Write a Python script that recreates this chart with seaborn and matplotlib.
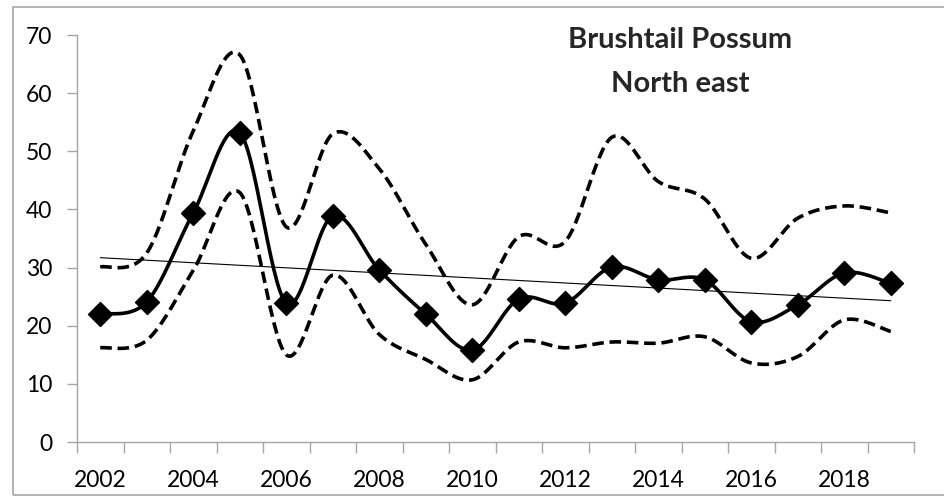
import numpy as np
import pandas as pd
import matplotlib
matplotlib.use('Agg')
import matplotlib.pyplot as plt
import seaborn as sns
from matplotlib.patches import Rectangle

# Data
years = list(range(2002, 2020))
mean_count = [22.0, 24.1, 39.4, 53.2, 23.9, 38.9, 29.6, 22.0, 15.8, 24.6,
              23.9, 30.1, 27.9, 27.9, 20.7, 23.6, 29.1, 27.3]
upper_ci = [30.1, 32.5, 53.5, 66.6, 37.0, 53.0, 47.0, 34.0, 23.6, 35.3,
            34.5, 52.4, 44.8, 41.8, 31.6, 38.5, 40.6, 39.4]
lower_ci = [16.2, 17.5, 29.5, 42.9, 15.0, 28.7, 18.5, 14.2, 10.7, 17.2,
            16.2, 17.2, 17.0, 18.1, 13.6, 14.7, 21.0, 19.0]


def smooth(y, n=30):
    # Excel style smoothed line (Catmull-Rom bezier)
    pts = np.column_stack([np.arange(len(y)), y]).astype(float)
    ext = np.vstack([pts[0], pts, pts[-1]])
    xs, ys = [], []
    for i in range(len(pts) - 1):
        p0, p1, p2, p3 = ext[i], ext[i + 1], ext[i + 2], ext[i + 3]
        c1 = p1 + (p2 - p0) / 6
        c2 = p2 - (p3 - p1) / 6
        t = np.linspace(0, 1, n, endpoint=(i == len(pts) - 2))[:, None]
        b = (1 - t) ** 3 * p1 + 3 * (1 - t) ** 2 * t * c1 + 3 * (1 - t) * t ** 2 * c2 + t ** 3 * p2
        xs.extend(b[:, 0])
        ys.extend(b[:, 1])
    return np.array(xs), np.array(ys)


sns.set_style("white")
plt.rcParams['font.family'] = ['Lato', 'DejaVu Sans']

df = pd.DataFrame({'idx': np.arange(len(years)), 'mean': mean_count})

fig = plt.figure(figsize=(9.44, 4.98), dpi=100)
ax = fig.add_axes([77 / 944, 1 - 442 / 498, (914 - 77) / 944, (442 - 35) / 498])

dash = (0, (3.2, 1.6))
for series in [upper_ci, lower_ci]:
    sx, sy = smooth(series)
    sns.lineplot(x=sx, y=sy, sort=False, estimator=None, ax=ax, color='black',
                 lw=2.6, linestyle=dash, dash_capstyle='butt')

sx, sy = smooth(mean_count)
sns.lineplot(x=sx, y=sy, sort=False, estimator=None, ax=ax, color='black', lw=2.6)

# linear trend of the mean
sns.regplot(data=df, x='idx', y='mean', ax=ax, scatter=False, ci=None, truncate=True,
            line_kws={'color': 'black', 'lw': 0.8})

sns.scatterplot(data=df, x='idx', y='mean', ax=ax, marker='D', s=150, color='black',
                edgecolor='black', zorder=5)

ax.set_xlim(-0.5, len(years) - 0.5)
ax.set_ylim(0, 70)
ax.set_yticks(range(0, 71, 10))
ax.set_xticks(np.arange(0, len(years), 2))
ax.set_xticklabels([str(y) for y in years[::2]])
ax.set_xticks(np.arange(-0.5, len(years), 1), minor=True)
ax.set_xlabel('')
ax.set_ylabel('')

for side in ['top', 'right']:
    ax.spines[side].set_visible(False)
for side in ['left', 'bottom']:
    ax.spines[side].set_color('#a6a6a6')
    ax.spines[side].set_linewidth(1.0)

ax.tick_params(axis='y', which='major', left=True, length=7, width=1, color='#a6a6a6',
               labelsize=16.5, pad=11, labelcolor='black')
ax.tick_params(axis='x', which='major', bottom=False, length=0, labelsize=16.5, pad=20,
               labelcolor='black')
ax.tick_params(axis='x', which='minor', bottom=True, length=8, width=1, color='#a6a6a6')

fig.text(680 / 944, 1 - 48 / 498, 'Brushtail Possum', ha='center', va='baseline',
         fontsize=21, fontweight='bold')
fig.text(680 / 944, 1 - 92 / 498, 'North east', ha='center', va='baseline',
         fontsize=21, fontweight='bold')

fig.add_artist(Rectangle((13 / 944, 3 / 498), 1.0, (495 - 7) / 498, transform=fig.transFigure,
                         fill=False, edgecolor='#a6a6a6', lw=1.2, clip_on=False))

fig.savefig('out.png', dpi=100)
